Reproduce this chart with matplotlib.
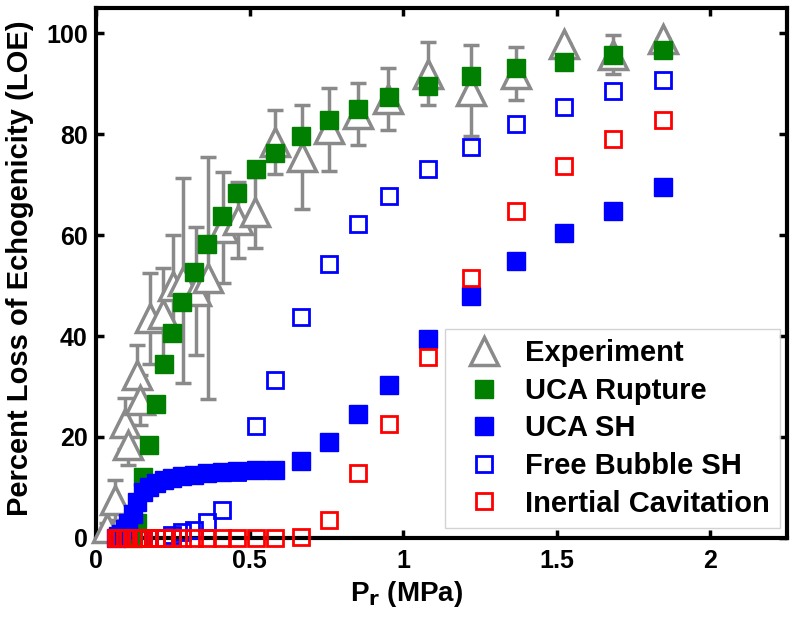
import matplotlib
matplotlib.use("Agg")
import matplotlib.pyplot as plt

plt.rcParams['font.family'] = ['Liberation Sans', 'DejaVu Sans']
plt.rcParams['font.weight'] = 'bold'

# experiment (gray triangles + error bars)
p_exp = [0.035, 0.062, 0.094, 0.105, 0.132, 0.143, 0.176, 0.218, 0.25, 0.282,
         0.327, 0.365, 0.413, 0.462, 0.519, 0.582, 0.67, 0.758, 0.852, 0.95,
         1.08, 1.22, 1.368, 1.525, 1.683, 1.847]
loe_exp = [1.9, 7.5, 22.7, 18.4, 32.2, 27.3, 43.5, 44.4, 50.0, 51.0,
           49.0, 51.5, 61.5, 63.0, 64.5, 78.5, 75.5, 81.0, 84.0, 87.0,
           92.0, 88.6, 92.0, 97.8, 95.8, 98.8]
err_exp = [1.0, 4.0, 5.0, 4.0, 6.0, 5.0, 9.0, 9.0, 10.0, 20.4,
           12.7, 24.0, 11.0, 7.5, 7.0, 6.4, 10.3, 8.2, 6.2, 6.1,
           6.3, 9.0, 5.3, 0.0, 3.8, 0.0]

# model pressure grid
p_mod = [0.064, 0.072, 0.082, 0.093, 0.105, 0.119, 0.135, 0.152, 0.172, 0.195,
         0.22, 0.249, 0.281, 0.318, 0.36, 0.41, 0.46, 0.52, 0.584, 0.668,
         0.758, 0.853, 0.953, 1.081, 1.222, 1.368, 1.525, 1.683, 1.847]

uca_rupture = [None, None, None, None, None, 0.0, 3.0, 12.1, 18.4, 26.6,
               34.5, 40.6, 46.7, 52.6, 58.2, 63.8, 68.4, 73.1, 76.3, 79.6,
               82.9, 85.1, 87.3, 89.5, 91.5, 93.1, 94.3, 95.7, 96.6]
uca_sh = [0.0, 0.3, 0.8, 1.8, 3.0, 4.8, 7.2, 9.0, 10.1, 10.9,
          11.4, 11.8, 12.2, 12.5, 12.8, 13.0, 13.2, 13.4, 13.5, 15.3,
          19.0, 24.6, 30.4, 39.4, 48.0, 54.8, 60.5, 64.8, 69.6]
free_bubble_sh = [0.0, 0.0, 0.0, 0.0, 0.0, 0.0, 0.0, 0.0, 0.0, 0.0,
                  0.0, 0.5, 1.2, 1.6, 3.2, 5.5, 13.0, 22.1, 31.2, 43.7,
                  54.3, 62.2, 67.8, 73.1, 77.5, 82.0, 85.4, 88.5, 90.8]
inertial_cav = [0.0, 0.0, 0.0, 0.0, 0.0, 0.0, 0.0, 0.0, 0.0, 0.0,
                0.0, 0.0, 0.0, 0.0, 0.0, 0.0, 0.0, 0.0, 0.0, 0.2,
                3.6, 12.8, 22.5, 35.8, 51.6, 64.8, 73.7, 79.1, 82.9]

gray = '#8a8a8a'
green = '#007f00'
blue = '#0000ff'
red = '#ff0000'

fig = plt.figure(figsize=(8, 6.24), dpi=100)
ax = fig.add_axes([0.12, 0.138, 0.864, 0.849])

ax.errorbar(p_exp, loe_exp, yerr=err_exp, fmt='none', ecolor=gray,
            elinewidth=2.5, capsize=6, capthick=2.5, zorder=3, clip_on=False)
ax.plot(p_exp, loe_exp, '^', ms=20, mfc='white', mec=gray, mew=2.5,
        ls='none', zorder=4, clip_on=False, label='Experiment')

pr = [p for p, v in zip(p_mod, uca_rupture) if v is not None]
vr = [v for v in uca_rupture if v is not None]
ax.plot(pr, vr, 's', ms=13, color=green, ls='none', zorder=5,
        clip_on=False, label='UCA Rupture')
ax.plot(p_mod, uca_sh, 's', ms=13, color=blue, ls='none', zorder=6,
        clip_on=False, label='UCA SH')
ax.plot(p_mod, free_bubble_sh, 's', ms=12, mfc='none', mec=blue, mew=2,
        ls='none', zorder=7, clip_on=False, label='Free Bubble SH')
ax.plot(p_mod, inertial_cav, 's', ms=12, mfc='none', mec=red, mew=2,
        ls='none', zorder=8, clip_on=False, label='Inertial Cavitation')

ax.set_xlim(0, 2.25)
ax.set_ylim(0, 105)
ax.set_xticks([0, 0.5, 1, 1.5, 2])
ax.set_xticklabels(['0', '0.5', '1', '1.5', '2'])
ax.set_yticks([0, 20, 40, 60, 80, 100])
ax.tick_params(direction='in', length=6, width=2.5, labelsize=18,
               top=True, right=True, pad=6)
ax.tick_params(axis='x', pad=8)
for s in ax.spines.values():
    s.set_linewidth(3)
    s.set_zorder(2.5)

ax.set_xlabel('P$_\\mathbf{r}$ (MPa)', fontsize=20, fontweight='bold')
ax.xaxis.set_label_coords(0.449, -0.077)
ax.set_ylabel('Percent Loss of Echogenicity (LOE)', fontsize=21,
              fontweight='bold')
ax.yaxis.set_label_coords(-0.09, 0.51)

leg = ax.legend(loc='lower right', bbox_to_anchor=(0.99, 0.019),
                fontsize=21, frameon=True, fancybox=False, markerscale=1,
                handlelength=2.0, handletextpad=0.4, labelspacing=0.33,
                borderpad=0.35, borderaxespad=0)
leg.get_frame().set_edgecolor('#c8c8c8')
leg.get_frame().set_linewidth(1)
for t in leg.get_texts():
    t.set_fontweight('bold')

fig.savefig('out.png', dpi=100)
